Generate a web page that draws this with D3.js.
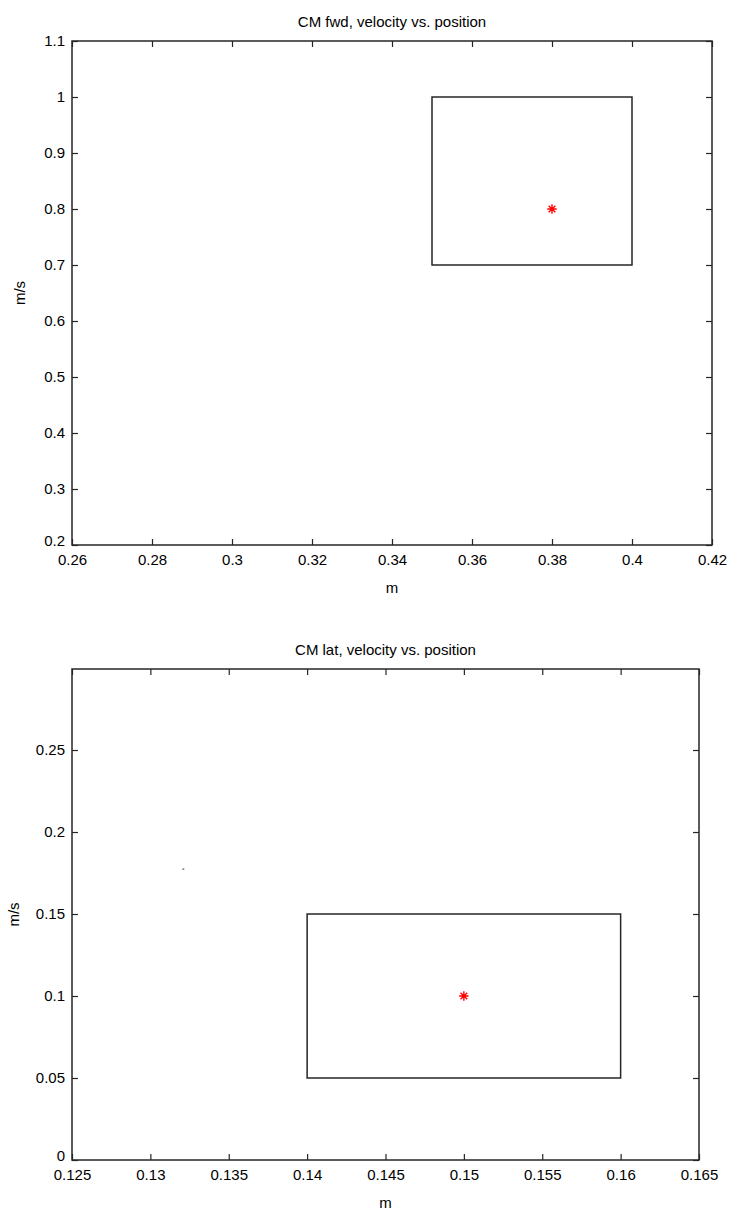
<!DOCTYPE html>
<html>
<head>
<meta charset="utf-8">
<script src="https://cdn.jsdelivr.net/npm/d3@7"></script>
<style>
  body { margin: 0; background: #fff; }
  text { font-family: "Liberation Sans", Arial, sans-serif; fill: #000; }
</style>
</head>
<body>
<svg id="chart" width="733" height="1216"></svg>
<script>
// ---- Data ----
const titles = ["CM fwd, velocity vs. position", "CM lat, velocity vs. position"];
const xLabels = ["m", "m"];
const yLabels = ["m/s", "m/s"];

const fwdXDomain = [0.26, 0.42];
const fwdYDomain = [0.2, 1.1];
const fwdXTicks = [0.26, 0.28, 0.3, 0.32, 0.34, 0.36, 0.38, 0.4, 0.42];
const fwdYTicks = [0.2, 0.3, 0.4, 0.5, 0.6, 0.7, 0.8, 0.9, 1, 1.1];
const fwdBox = [0.35, 0.4, 0.7, 1.0];      // x0, x1, y0, y1
const fwdPoint = [0.38, 0.8];

const latXDomain = [0.125, 0.165];
const latYDomain = [0, 0.2994];
const latXTicks = [0.125, 0.13, 0.135, 0.14, 0.145, 0.15, 0.155, 0.16, 0.165];
const latYTicks = [0, 0.05, 0.1, 0.15, 0.2, 0.25];
const latBox = [0.14, 0.16, 0.05, 0.15];
const latPoint = [0.15, 0.1];
const latDot = [0.1321, 0.1774];

const svg = d3.select("#chart");
const FONT = 15;

// asterisk symbol like MATLAB '*'
const asterisk = {
  draw(ctx, size) {
    const r = Math.sqrt(size) / 2;
    const d = r * Math.SQRT1_2;
    ctx.moveTo(-r, 0); ctx.lineTo(r, 0);
    ctx.moveTo(0, -r); ctx.lineTo(0, r);
    ctx.moveTo(-d, -d); ctx.lineTo(d, d);
    ctx.moveTo(-d, d); ctx.lineTo(d, -d);
  }
};

function fmt(v) { return String(+v.toFixed(4)); }

function panel(cfg) {
  const { left, right, top, bottom, xDomain, yDomain, xTicks, yTicks, box, point, dot, title, xLabel, yLabel, yLabelX } = cfg;
  const x = d3.scaleLinear().domain(xDomain).range([left, right]);
  const y = d3.scaleLinear().domain(yDomain).range([bottom, top]);
  const g = svg.append("g");
  const tickLen = 6;
  const axisColor = "#262626";

  const gx = g.append("g").attr("transform", `translate(0,${bottom})`)
    .call(d3.axisBottom(x).tickValues(xTicks).tickSize(-tickLen).tickPadding(9).tickFormat(fmt));
  const gxt = g.append("g").attr("transform", `translate(0,${top})`)
    .call(d3.axisTop(x).tickValues(xTicks).tickSize(-tickLen).tickFormat(""));
  const gy = g.append("g").attr("transform", `translate(${left},0)`)
    .call(d3.axisLeft(y).tickValues(yTicks).tickSize(-tickLen).tickPadding(7).tickFormat(fmt));
  const gyr = g.append("g").attr("transform", `translate(${right},0)`)
    .call(d3.axisRight(y).tickValues(yTicks).tickSize(-tickLen).tickFormat(""));
  [gx, gxt, gy, gyr].forEach(a => {
    a.select(".domain").remove();
    a.selectAll("line").attr("stroke", axisColor).attr("stroke-width", 1.2);
    a.selectAll("text").attr("font-size", FONT).attr("fill", "#000")
      .attr("font-family", "'Liberation Sans', Arial, sans-serif");
  });
  gx.selectAll("text").attr("dy", "0.71em");
  // lowest y label sits slightly above the corner, as in the reference
  gy.selectAll("text").filter(d => d === yTicks[0]).attr("dy", "0.05em");

  // frame
  g.append("rect")
    .attr("x", x(xDomain[0])).attr("y", y(yDomain[1]))
    .attr("width", x(xDomain[1]) - x(xDomain[0]))
    .attr("height", y(yDomain[0]) - y(yDomain[1]))
    .attr("fill", "none").attr("stroke", axisColor).attr("stroke-width", 1.5);

  // box
  g.append("rect")
    .attr("x", x(box[0])).attr("y", y(box[3]))
    .attr("width", x(box[1]) - x(box[0]))
    .attr("height", y(box[2]) - y(box[3]))
    .attr("fill", "none").attr("stroke", axisColor).attr("stroke-width", 1.5);

  // point
  g.append("path")
    .attr("d", d3.symbol(asterisk, 90)())
    .attr("transform", `translate(${x(point[0])},${y(point[1])})`)
    .attr("stroke", "#ff0000").attr("stroke-width", 1.4).attr("fill", "none");

  if (dot) {
    g.append("rect").attr("x", x(dot[0]) - 1).attr("y", y(dot[1]) - 0.5)
      .attr("width", 2).attr("height", 1).attr("fill", "#333");
  }

  g.append("text").attr("x", (left + right) / 2).attr("y", top - 14)
    .attr("text-anchor", "middle").attr("font-size", FONT).text(title);
  g.append("text").attr("x", (left + right) / 2).attr("y", bottom + 48)
    .attr("text-anchor", "middle").attr("font-size", FONT).text(xLabel);
  g.append("text")
    .attr("transform", `translate(${yLabelX},${(top + bottom) / 2}) rotate(-90)`)
    .attr("text-anchor", "middle").attr("font-size", FONT).text(yLabel);
}

panel({ left: 72, right: 712, top: 41, bottom: 545,
  xDomain: fwdXDomain, yDomain: fwdYDomain, xTicks: fwdXTicks, yTicks: fwdYTicks,
  box: fwdBox, point: fwdPoint, title: titles[0], xLabel: xLabels[0], yLabel: yLabels[0], yLabelX: 25 });

panel({ left: 72, right: 699, top: 669, bottom: 1160,
  xDomain: latXDomain, yDomain: latYDomain, xTicks: latXTicks, yTicks: latYTicks,
  box: latBox, point: latPoint, dot: latDot, title: titles[1], xLabel: xLabels[1], yLabel: yLabels[1], yLabelX: 19 });
</script>
</body>
</html>
